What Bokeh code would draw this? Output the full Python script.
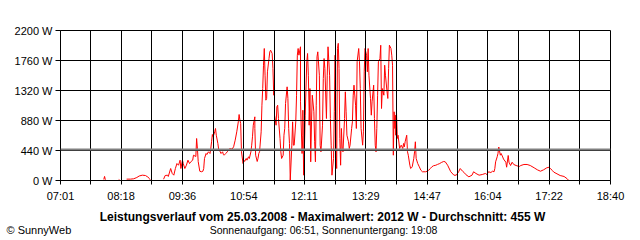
import math
from bokeh.plotting import figure
from bokeh.layouts import column
from bokeh.models import FixedTicker, PrintfTickFormatter, Span, ColumnDataSource, Range1d
from bokeh.core.properties import value
from bokeh.embed import file_html
from bokeh.resources import INLINE

FONT = "Liberation Sans"

# x tick labels (time of day)
tick_labels = ["07:01", "08:18", "09:36", "10:54", "12:11", "13:29", "14:47", "16:04", "17:22", "18:40"]
# y ticks (W)
y_ticks = [0, 440, 880, 1320, 1760, 2200]

average_w = 455
max_w = 2012
title_text = f"Leistungsverlauf vom 25.03.2008 - Maximalwert: {max_w} W - Durchschnitt: {average_w} W"
sun_text = "Sonnenaufgang: 06:51, Sonnenuntergang: 19:08"
credit_text = "\u00a9 SunnyWeb"

# power curve: time of day and power in W (None = no data)
times = [
    "07:56", "07:57", "07:58", "07:59",
    "08:15", "08:16", "08:17",
    "08:25", "08:30", "08:34", "08:38", "08:41", "08:45", "08:49", "08:52", "08:54", "08:55", "08:56",
    "09:12", "09:14", "09:17", "09:18", "09:21", "09:23", "09:25", "09:27", "09:29", "09:31",
    "09:33", "09:34", "09:36", "09:37", "09:39", "09:41", "09:43", "09:45", "09:47", "09:49",
    "09:50", "09:53", "09:54", "09:55", "09:56", "09:58", "10:00", "10:02", "10:03", "10:04",
    "10:06", "10:07", "10:09", "10:11", "10:12", "10:13", "10:14", "10:15", "10:17", "10:18",
    "10:19", "10:21", "10:22", "10:24", "10:25", "10:27", "10:28", "10:29", "10:31", "10:33",
    "10:35", "10:37", "10:39", "10:41", "10:43", "10:45", "10:47", "10:48", "10:49", "10:50",
    "10:51", "10:53", "10:54", "10:55", "10:57", "10:58", "11:00", "11:01", "11:03", "11:04",
    "11:05", "11:06", "11:08", "11:08", "11:09", "11:11", "11:12", "11:13", "11:14", "11:16",
    "11:17", "11:18", "11:19", "11:20", "11:21", "11:22", "11:23", "11:24", "11:26", "11:27",
    "11:28", "11:30", "11:31", "11:32", "11:33", "11:33", "11:35", "11:36", "11:37", "11:38",
    "11:40", "11:41", "11:42", "11:44", "11:45", "11:46", "11:47", "11:49", "11:50", "11:51",
    "11:52", "11:53", "11:55", "11:56", "11:57", "11:58", "12:00", "12:01", "12:02", "12:03",
    "12:04", "12:06", "12:06", "12:08", "12:09", "12:09", "12:10", "12:11", "12:12", "12:14",
    "12:15", "12:16", "12:17", "12:17", "12:18", "12:19", "12:20", "12:21", "12:23", "12:24",
    "12:25", "12:26", "12:27", "12:28", "12:30", "12:31", "12:32", "12:34", "12:35", "12:36",
    "12:37", "12:39", "12:40", "12:41", "12:43", "12:44", "12:45", "12:46", "12:48", "12:49",
    "12:50", "12:51", "12:52", "12:53", "12:54", "12:55", "12:56", "12:57", "12:58", "12:59",
    "13:00", "13:02", "13:03", "13:04", "13:05", "13:07", "13:08", "13:09", "13:11", "13:12",
    "13:13", "13:14", "13:16", "13:17", "13:18", "13:20", "13:21", "13:22", "13:23", "13:25",
    "13:26", "13:27", "13:28", "13:30", "13:31", "13:32", "13:33", "13:35", "13:36", "13:37",
    "13:39", "13:40", "13:41", "13:42", "13:43", "13:44", "13:45", "13:47", "13:48", "13:49",
    "13:50", "13:52", "13:53", "13:54", "13:56", "13:57", "13:58", "13:59", "14:01", "14:02",
    "14:03", "14:04", "14:05", "14:06", "14:07", "14:07", "14:08", "14:09", "14:10", "14:12",
    "14:13", "14:14", "14:16", "14:17", "14:18", "14:19", "14:21", "14:22", "14:23", "14:25",
    "14:26", "14:27", "14:28", "14:30", "14:31", "14:32", "14:33", "14:35", "14:37", "14:39",
    "14:41", "14:45", "14:47", "14:49", "14:51", "14:53", "14:55", "14:58", "15:00", "15:03",
    "15:05", "15:08", "15:10", "15:13", "15:17", "15:21", "15:24", "15:27", "15:29", "15:32",
    "15:34", "15:36", "15:40", "15:44", "15:46", "15:49", "15:53", "15:57", "16:01", "16:03",
    "16:05", "16:08", "16:10", "16:12", "16:13", "16:14", "16:16", "16:17", "16:18", "16:20",
    "16:21", "16:23", "16:24", "16:27", "16:28", "16:30", "16:31", "16:33", "16:35", "16:37",
    "16:40", "16:44", "16:46", "16:50", "16:54", "16:58", "17:03", "17:07", "17:11", "17:15",
    "17:19", "17:22", "17:24", "17:26", "17:28", "17:32", "17:36", "17:41", "17:45", "17:47",
]
watts = [
    15, 60, 10, None,
    15, 10, None,
    20, 20, 25, 44, 66, 78, 73, 51, 29, 10, None,
    19, 73, 78, 59, 176, 103, 78, 176, 249, 224,
    298, 176, 298, 249, 176, 224, 298, 249, 279, 298,
    371, 352, 616, 469, 279, 136, 128, 136, 176, 323,
    396, 381, 421, 396, 469, 568, 675, 641, 714, 763,
    664, 543, 459, 421, 396, 421, 381, 371, 396, 421,
    459, 469, 459, 494, 591, 714, 861, 968, 884, 836,
    421, 249, 298, 279, 323, 298, 348, 323, 421, 518,
    641, 811, 934, 763, 371, 279, 323, 396, 421, 714,
    1104, 1349, 1691, 1936, 1544, 1178, 1203, 1594, 1789, 1887,
    1911, 1863, 1643, 1251, 1349, 958, 811, 1081, 1104, 909,
    616, 421, 323, 371, 664, 763, 1129, 1374, 1203, 763,
    543, 4, 518, 861, 518, 518, 861, 1251, 1838, 1936,
    1838, 1961, 1154, 396, 664, 1031, 78, 469, 958, 1741,
    1863, 1544, 1008, 811, 1349, 274, 861, 1251, 1008, 568,
    274, 1104, 1814, 1887, 1544, 518, 421, 811, 1496, 1789,
    1643, 909, 1544, 1961, 1544, 909, 518, 78, 323, 1008,
    1838, 469, 176, 1936, 2012, 1643, 616, 224, 763, 469,
    421, 909, 1301, 1008, 664, 568, 469, 518, 763, 861,
    1251, 1398, 1104, 763, 1741, 1936, 1741, 1349, 763, 518,
    714, 1594, 1936, 1838, 1594, 1936, 1544, 1203, 958, 1154,
    1398, 909, 518, 421, 763, 1251, 1741, 1789, 1984, 1056,
    1349, 1251, 1691, 1544, 1301, 1203, 1643, 1984, 1936, 1838,
    1691, 371, 1008, 763, 958, 664, 1008, 616, 664, 469,
    494, 518, 469, 543, 494, 568, 664, 421, 371, 224,
    176, 186, 201, 323, 421, 568, 323, 249, 201, 151,
    128, 128, 136, 151, 176, 201, 216, 224, 235, 249,
    264, 279, 274, 224, 128, 78, 78, 128, 176, 136,
    117, 88, 54, 78, 128, 103, 78, 88, 103, 88,
    128, 117, 136, 128, 176, 274, 348, 396, 491, 371,
    396, 345, 315, 268, 195, 367, 268, 220, 268, 235,
    220, 205, 220, 235, 235, 220, 186, 157, 136, 157,
    186, 195, 172, 147, 122, 98, 73, 59, 25, 0,
]


def to_min(s):
    h, m = s.split(":")
    return int(h) * 60 + int(m)


xs = [to_min(t) for t in times]
ys = [float("nan") if w is None else w for w in watts]
tick_pos = [to_min(t) for t in tick_labels]
minor_pos = [(a + b) / 2 for a, b in zip(tick_pos[:-1], tick_pos[1:])]

# ---- main chart ----
p = figure(width=640, height=205, output_backend="svg", toolbar_location=None,
           x_range=(tick_pos[0], tick_pos[-1]), y_range=(y_ticks[0], y_ticks[-1]),
           min_border_left=60, min_border_right=30, min_border_top=30, min_border_bottom=25)
p.frame_align = False
p.background_fill_color = "white"
p.border_fill_color = "white"
p.outline_line_color = "black"
p.outline_line_width = 1

src = ColumnDataSource(dict(x=xs, y=ys))
p.line("x", "y", source=src, line_color="#ff0000", line_width=1)

p.xaxis.ticker = FixedTicker(ticks=tick_pos, minor_ticks=minor_pos)
p.xaxis.major_label_overrides = {tp: lab for tp, lab in zip(tick_pos, tick_labels)}
p.yaxis.ticker = FixedTicker(ticks=y_ticks)
p.yaxis.formatter = PrintfTickFormatter(format="%d W")

for ax in (p.xaxis, p.yaxis):
    ax.axis_line_color = "black"
    ax.major_tick_line_color = "black"
    ax.major_tick_in = 0
    ax.major_label_text_font = FONT
    ax.major_label_text_font_size = "11px"
    ax.major_label_text_color = "black"
p.xaxis.major_tick_out = 4
p.xaxis.minor_tick_out = 4
p.xaxis.minor_tick_in = 0
p.xaxis.minor_tick_line_color = "black"
p.xaxis.major_label_standoff = 5
p.yaxis.major_tick_out = 5
p.yaxis.minor_tick_line_color = None
p.yaxis.major_label_standoff = 3

p.xgrid.grid_line_color = "black"
p.xgrid.minor_grid_line_color = "black"
p.ygrid.grid_line_color = "black"
p.xgrid.level = "annotation"
p.ygrid.level = "annotation"

p.add_layout(Span(location=average_w, dimension="width", line_color="#808080", line_width=2))

# ---- caption strip below the chart ----
cap = figure(width=640, height=35, output_backend="svg", toolbar_location=None,
             x_range=Range1d(0, 640), y_range=Range1d(35, 0),
             x_axis_type=None, y_axis_type=None, min_border=0)
cap.frame_align = False
cap.outline_line_color = None
cap.background_fill_color = "white"
cap.border_fill_color = "white"
cap.xgrid.visible = False
cap.ygrid.visible = False

cap.text(x=[322], y=[11], text=[title_text], text_align="center", text_baseline="middle",
         text_font=value(FONT), text_font_size="12px", text_font_style="bold", text_color="black")
cap.text(x=[323], y=[24], text=[sun_text], text_align="center", text_baseline="middle",
         text_font=value(FONT), text_font_size="10.5px", text_color="black")
cap.text(x=[6], y=[24], text=[credit_text], text_align="left", text_baseline="middle",
         text_font=value(FONT), text_font_size="11px", text_color="black")

layout = column(p, cap, spacing=0)
open("out.html", "w").write(file_html(layout, INLINE))
